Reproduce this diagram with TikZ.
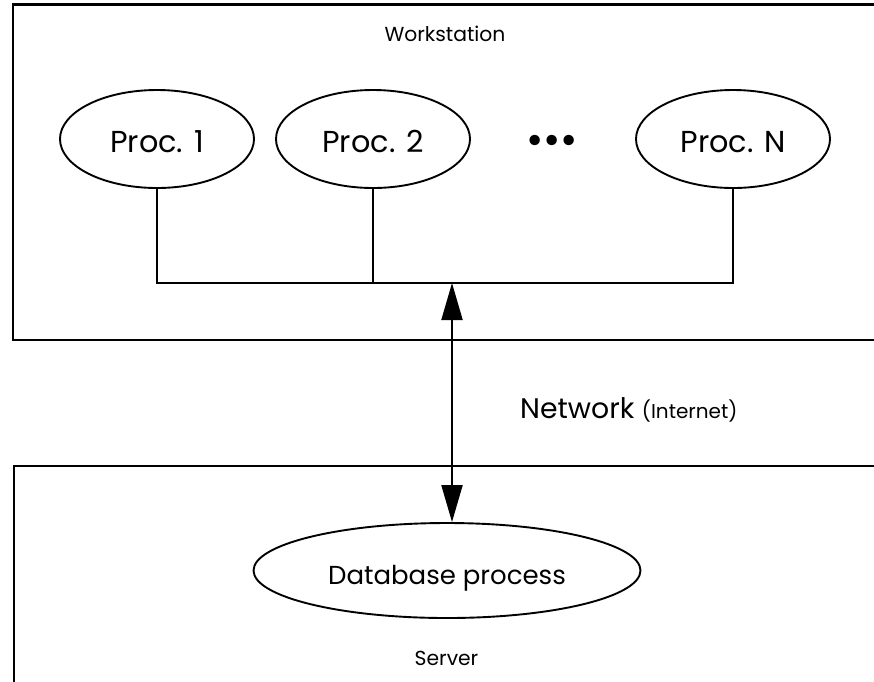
\documentclass[tikz,border=0pt]{standalone}
\usepackage{fontspec}
\setmainfont{Poppins}
\usetikzlibrary{arrows.meta,shapes.geometric}
\begin{document}
\begin{tikzpicture}[x=1pt,y=-1pt,
  frame/.style={line width=2.4pt},
  procbox/.style={draw, ellipse, line width=1.9pt, inner sep=0pt,
    minimum width=194pt, minimum height=98pt, text height=27pt, text depth=0pt,
    font=\fontsize{30.3}{32}\selectfont},
  dbbox/.style={draw, ellipse, line width=1.9pt, inner sep=0pt,
    minimum width=387pt, minimum height=95pt, text height=27pt, text depth=0pt,
    font=\fontsize{26}{28}\selectfont},
  wire/.style={line width=1.6pt},
  netarrow/.style={line width=2pt,
    {Triangle[length=37pt,width=21pt]}-{Triangle[length=37pt,width=21pt]}},
  lbl/.style={inner sep=0pt, font=\fontsize{20.3}{22}\selectfont},
  biglbl/.style={inner sep=0pt, font=\fontsize{28.3}{30}\selectfont},
  dotslbl/.style={inner sep=0pt, font=\fontsize{42}{44}\selectfont}
]
\useasboundingbox (0,0) rectangle (874,681);
\clip (0,0) rectangle (874,681);

% frames
\draw[frame] (900,4.5) -- (13,4.5) -- (13,340) -- (900,340);
\draw[frame] (900,466) -- (14,466) -- (14,700);

% labels
\node[lbl, anchor=base] (ws) at (445,41) {Workstation};
\node[lbl, anchor=base] (srv) at (446.5,665) {Server};
\node[biglbl, anchor=base west] (net) at (520,418) {Network {\fontsize{20}{22}\selectfont(Internet)}};

% processes
\node[procbox] (p1) at (157,139) {Proc. 1};
\node[procbox] (p2) at (373,139) {Proc. 2};
\node[procbox] (pN) at (733,139) {Proc. N};
\node[dotslbl] (dots) at (552,144.5) {•••};
\node[dbbox] (db) at (447,570.5) {Database process};

% bus
\coordinate (busL) at (157,283);
\coordinate (busR) at (733,283);
\coordinate (busM) at (452,283);
\draw[wire] (p1.south) -- (busL) -- (busR) -- (pN.south);
\draw[wire] (p2.south) -- (p2.south |- busL);

% network arrow
\draw[netarrow] (busM) -- (busM |- db.north);
\end{tikzpicture}
\end{document}
